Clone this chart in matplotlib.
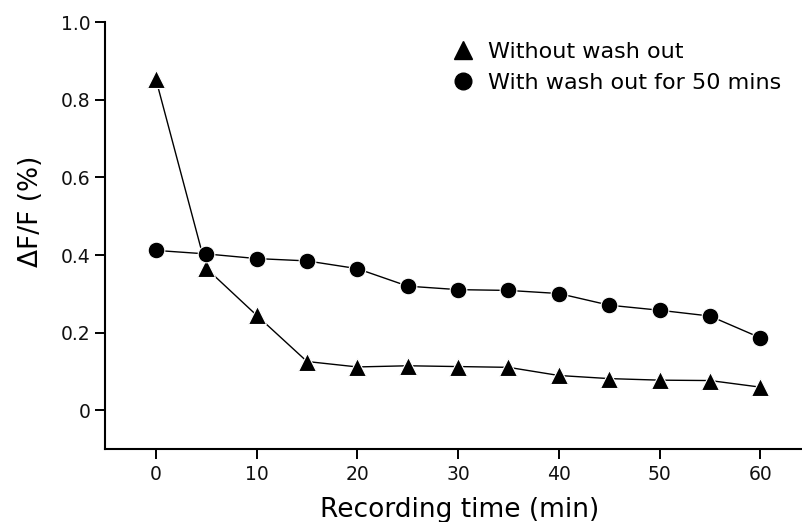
import matplotlib.pyplot as plt
from matplotlib.lines import Line2D

# recording times (min) and dF/F values for the two conditions
time_min = [0, 5, 10, 15, 20, 25, 30, 35, 40, 45, 50, 55, 60]
without_wash = [0.853, 0.366, 0.245, 0.126, 0.112, 0.115, 0.113, 0.111,
                0.090, 0.082, 0.078, 0.077, 0.060]
with_wash = [0.412, 0.403, 0.391, 0.385, 0.365, 0.320, 0.311, 0.309,
             0.301, 0.271, 0.258, 0.243, 0.187]

y_ticks = [0, 0.2, 0.4, 0.6, 0.8, 1.0]
y_ticklabels = ['0', '0.2', '0.4', '0.6', '0.8', '1.0']
x_ticks = [0, 10, 20, 30, 40, 50, 60]

plt.rcParams['font.family'] = ['DejaVu Sans']

W, H = 803, 522
fig = plt.figure(figsize=(W / 100, H / 100), dpi=100)
# axes box in pixels: left spine at 105.5, bottom spine at 449.3, top at 22
ax = fig.add_axes([105.5 / W, (H - 449.3) / H, (W - 105.5) / W, (449.3 - 22) / H])

mk = dict(color='black', lw=1.0, markeredgecolor='white', markeredgewidth=0.8)
ax.plot(time_min, without_wash, marker='^', markersize=13, zorder=3, **mk)
ax.plot(time_min, with_wash, marker='o', markersize=12, zorder=4, **mk)

ax.set_xlim(-5, -5 + (W - 105.5) / 10.075)
ax.set_ylim(-0.1, 1.0)
ax.set_xticks(x_ticks)
ax.set_yticks(y_ticks)
ax.set_yticklabels(y_ticklabels)

for side in ['top', 'right']:
    ax.spines[side].set_visible(False)
for side in ['left', 'bottom']:
    ax.spines[side].set_linewidth(1.5)
ax.tick_params(direction='out', length=7, width=1.4, labelsize=13.5, pad=4,
               labelcolor='#111111')

ax.set_xlabel('Recording time (min)', fontsize=19)
ax.xaxis.label.set_va('baseline')
ax.xaxis.set_label_coords((460 - 105.5) / (W - 105.5), (449.3 - 517) / 427.3)
ax.set_ylabel('\u0394F/F (%)', fontsize=19)
ax.yaxis.set_label_coords((44 - 105.5) / (W - 105.5), (449.3 - 211) / 427.3)

# marker-only legend entries
handles = [
    Line2D([], [], ls='none', marker='^', markersize=13, color='black'),
    Line2D([], [], ls='none', marker='o', markersize=12, color='black'),
]
ax.legend(handles, ['Without wash out', 'With wash out for 50 mins'],
          loc='upper left', bbox_to_anchor=(452 / W, 1 - 42 / H),
          bbox_transform=fig.transFigure, frameon=False, fontsize=16,
          handlelength=1.0, handletextpad=0.6, labelspacing=0.48,
          borderpad=0, borderaxespad=0)

plt.savefig('out.png', dpi=100)
